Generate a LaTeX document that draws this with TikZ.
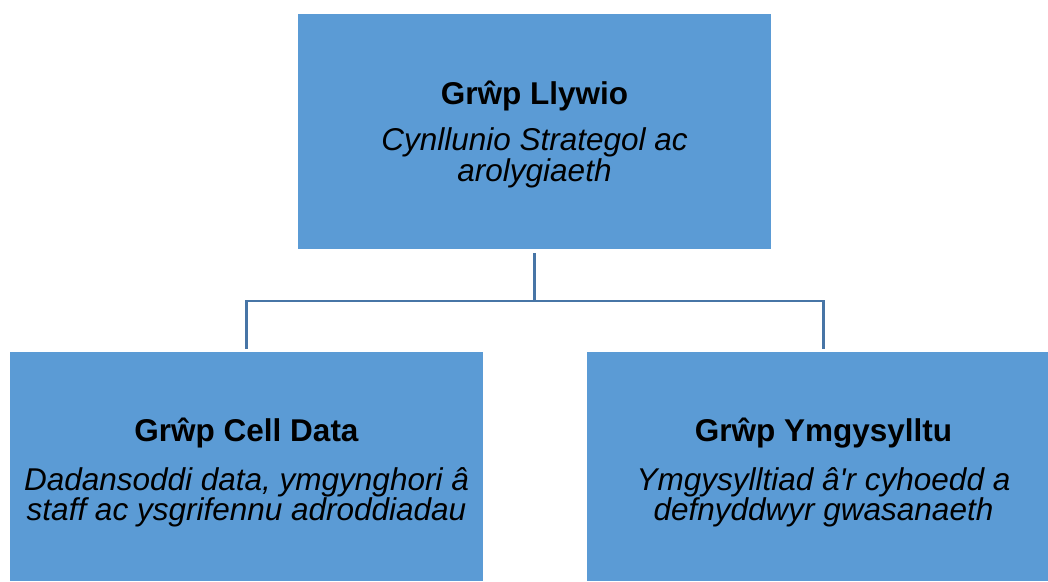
\documentclass[tikz,border=0pt]{standalone}
\usepackage{fontspec}
\setmainfont{Liberation Sans}[Ligatures=TeXOff]
\definecolor{boxblue}{HTML}{5B9BD5}
\definecolor{linkblue}{HTML}{4775A6}
\begin{document}
\begin{tikzpicture}[x=1pt,y=-1pt,
  box/.style={fill=boxblue, draw=none},
  title/.style={anchor=base, inner sep=0pt, font=\fontsize{31.5}{31.5}\selectfont\bfseries},
  desc/.style={anchor=base, inner sep=0pt, font=\fontsize{31.5}{31.5}\selectfont\itshape},
  link/.style={draw=linkblue, line width=2.5pt}]
\useasboundingbox (0,0) rectangle (1048,581);
% boxes
\path[box] (298,14) rectangle (771,249);
\path[box] (10,352) rectangle (483,581);
\path[box] (587,352) rectangle (1048,581);
% anchor coordinates for connectors
\coordinate (topb) at (534.5,253);
\coordinate (mid) at (534.5,301);
\coordinate (lmid) at (246.5,301);
\coordinate (rmid) at (823.5,301);
\coordinate (lt) at (246.5,349);
\coordinate (rt) at (823.5,349);
\draw[link] (topb) -- (mid);
\draw[link] (lt) -- (lmid) -- (rmid) -- (rt);
% texts
\node[title] (t1) at (534.5,104) {Grŵp Llywio};
\node[desc] (d1a) at (534.5,150) {Cynllunio Strategol ac};
\node[desc] (d1b) at (534.5,181) {arolygiaeth};
\node[title] (t2) at (246.5,441.5) {Grŵp Cell Data};
\node[desc] (d2a) at (246.5,490) {Dadansoddi data, ymgynghori â};
\node[desc] (d2b) at (246.5,520.5) {staff ac ysgrifennu adroddiadau};
\node[title] (t3) at (823.5,441.5) {Grŵp Ymgysylltu};
\node[desc] (d3a) at (823.5,490) {Ymgysylltiad â'r cyhoedd a};
\node[desc] (d3b) at (823.5,520.5) {defnyddwyr gwasanaeth};
\end{tikzpicture}
\end{document}
